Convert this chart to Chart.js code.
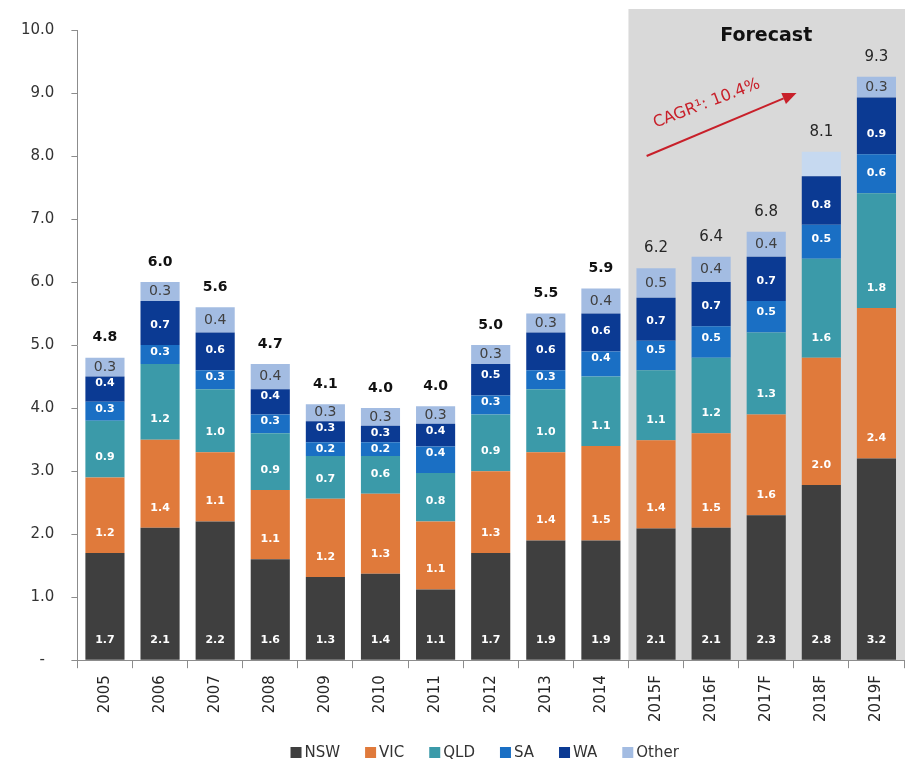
<!DOCTYPE html>
<html>
<head>
<meta charset="utf-8">
<script src="https://cdn.jsdelivr.net/npm/chart.js@4.4.1/dist/chart.umd.min.js"></script>
<style>
  html, body { margin: 0; padding: 0; background: #ffffff; }
  #wrap { width: 909px; height: 764px; }
</style>
</head>
<body>
<div id="wrap"><canvas id="c" width="909" height="764"></canvas></div>
<script>
// ---- data ----
const categories = ['2005','2006','2007','2008','2009','2010','2011','2012','2013','2014','2015F','2016F','2017F','2018F','2019F'];
const seriesNames = ['NSW','VIC','QLD','SA','WA','Other'];
const nsw   = [1.7, 2.1, 2.2, 1.6, 1.32, 1.37, 1.12, 1.7, 1.9, 1.9, 2.09, 2.1, 2.3, 2.78, 3.2];
const vic   = [1.2, 1.4, 1.1, 1.1, 1.24, 1.27, 1.08, 1.3, 1.4, 1.5, 1.4, 1.5, 1.6, 2.02, 2.39];
const qld   = [0.9, 1.2, 1.0, 0.9, 0.68, 0.6, 0.77, 0.9, 1.0, 1.1, 1.11, 1.2, 1.3, 1.57, 1.82];
const sa    = [0.3, 0.3, 0.3, 0.3, 0.22, 0.22, 0.42, 0.3, 0.3, 0.4, 0.47, 0.5, 0.5, 0.54, 0.62];
const wa    = [0.4, 0.7, 0.6, 0.4, 0.33, 0.26, 0.36, 0.5, 0.6, 0.6, 0.68, 0.7, 0.7, 0.77, 0.9];
const other = [0.3, 0.3, 0.4, 0.4, 0.27, 0.28, 0.28, 0.3, 0.3, 0.4, 0.47, 0.4, 0.4, 0.39, 0.33];
const yTicks = [0,1,2,3,4,5,6,7,8,9,10];
const forecastStart = 10;          // index of first forecast category
const forecastTitle = 'Forecast';
const cagrText = 'CAGR\u00B9: 10.4%';
const unlabeledOther = [13];        // 2018F "Other" segment carries no label

// ---- styles ----
const FONT = '"DejaVu Sans", Verdana, sans-serif';
const seriesColors = ['#3f3f3f', '#e07a3b', '#3b9aa9', '#1a6fc4', '#0b3a93', '#a3bce2'];
const otherColors = other.map((v, i) => unlabeledOther.includes(i) ? '#c6d9f0' : seriesColors[5]);
const seriesValues = [nsw, vic, qld, sa, wa, other];

const datasets = seriesNames.map((name, k) => ({
  label: name,
  data: seriesValues[k],
  backgroundColor: k === 5 ? otherColors : seriesColors[k],
  borderWidth: 0,
  barPercentage: 0.71,
  categoryPercentage: 1.0
}));

const totals = categories.map((c, i) => seriesValues.reduce((s, arr) => s + arr[i], 0));

const forecastBox = {
  id: 'forecastBox',
  beforeDraw(chart) {
    const { ctx, chartArea, scales } = chart;
    const x = scales.x;
    const half = (x.getPixelForValue(1) - x.getPixelForValue(0)) / 2;
    const left = x.getPixelForValue(forecastStart) - half;
    const right = chartArea.right + 1;
    const top = chartArea.top - 21;
    ctx.save();
    ctx.fillStyle = '#d9d9d9';
    ctx.fillRect(left, top, right - left, chartArea.bottom - top);
    ctx.restore();
  }
};

const labelsPlugin = {
  id: 'segLabels',
  afterDatasetsDraw(chart) {
    const { ctx, scales } = chart;
    ctx.save();
    ctx.textAlign = 'center';
    ctx.textBaseline = 'middle';
    chart.data.datasets.forEach((ds, k) => {
      const meta = chart.getDatasetMeta(k);
      meta.data.forEach((el, i) => {
        if (k === 5 && unlabeledOther.includes(i)) return;
        const top = Math.min(el.y, el.base), base = Math.max(el.y, el.base);
        const txt = ds.data[i].toFixed(1);
        let y;
        if (k === 5) {
          y = (top + base) / 2;
          ctx.fillStyle = '#404040';
          ctx.font = '14px ' + FONT;
        } else {
          y = Math.max(base - 20, top + 7);
          ctx.fillStyle = '#ffffff';
          ctx.font = 'bold 11px ' + FONT;
        }
        ctx.fillText(txt, el.x, y);
      });
    });
    // totals
    totals.forEach((t, i) => {
      const x = scales.x.getPixelForValue(i);
      const y = scales.y.getPixelForValue(t) - 20;
      if (i >= forecastStart) {
        ctx.font = '15px ' + FONT;
        ctx.fillStyle = '#262626';
      } else {
        ctx.font = 'bold 14px ' + FONT;
        ctx.fillStyle = '#111111';
      }
      ctx.fillText(t.toFixed(1), x, y);
    });
    ctx.restore();
  },
  afterDraw(chart) {
    const { ctx, scales, chartArea } = chart;
    const xs = scales.x, ys = scales.y;
    ctx.save();
    // Forecast title
    ctx.textAlign = 'center';
    ctx.textBaseline = 'middle';
    ctx.fillStyle = '#111111';
    ctx.font = 'bold 19px ' + FONT;
    ctx.fillText(forecastTitle, xs.getPixelForValue(12), ys.getPixelForValue(9.9));
    // CAGR arrow
    const x1 = xs.getPixelForValue(9.83), y1 = ys.getPixelForValue(8.0);
    const x2 = xs.getPixelForValue(12.55), y2 = ys.getPixelForValue(9.0);
    const ang = Math.atan2(y2 - y1, x2 - x1);
    const red = '#c8202a';
    ctx.strokeStyle = red;
    ctx.fillStyle = red;
    ctx.lineWidth = 2;
    const hl = 14, hw = 6;
    const bx = x2 - hl * Math.cos(ang), by = y2 - hl * Math.sin(ang);
    ctx.beginPath();
    ctx.moveTo(x1, y1);
    ctx.lineTo(bx, by);
    ctx.stroke();
    ctx.beginPath();
    ctx.moveTo(x2, y2);
    ctx.lineTo(bx + hw * Math.sin(ang), by - hw * Math.cos(ang));
    ctx.lineTo(bx - hw * Math.sin(ang), by + hw * Math.cos(ang));
    ctx.closePath();
    ctx.fill();
    // CAGR text
    ctx.save();
    ctx.translate(xs.getPixelForValue(10.92), ys.getPixelForValue(8.83));
    ctx.rotate(-21 * Math.PI / 180);
    ctx.font = '16px ' + FONT;
    ctx.fillText(cagrText, 0, 0);
    ctx.restore();

    // Legend
    ctx.font = '15px ' + FONT;
    ctx.textAlign = 'left';
    const box = 11, gap = 3, spacing = 25;
    const widths = seriesNames.map(n => box + gap + ctx.measureText(n).width);
    const total = widths.reduce((a, b) => a + b, 0) + spacing * (seriesNames.length - 1);
    let x = (chartArea.left + chartArea.right) / 2 - 6 - total / 2;
    const cy = 752.5;
    seriesNames.forEach((n, k) => {
      ctx.fillStyle = seriesColors[k];
      ctx.fillRect(x, cy - box / 2, box, box);
      ctx.fillStyle = '#333333';
      ctx.fillText(n, x + box + gap, cy + 1);
      x += widths[k] + spacing;
    });
    ctx.restore();
  }
};

new Chart(document.getElementById('c'), {
  type: 'bar',
  data: { labels: categories, datasets },
  options: {
    responsive: false,
    devicePixelRatio: 1,
    animation: false,
    layout: { padding: { left: 4, right: 5, top: 30, bottom: 35 } },
    plugins: { legend: { display: false }, tooltip: { enabled: false } },
    scales: {
      x: {
        stacked: true,
        grid: { display: true, drawOnChartArea: false, tickLength: 8, color: '#8c8c8c', offset: true },
        border: { color: '#8c8c8c' },
        ticks: { maxRotation: 90, minRotation: 90, padding: 7, color: '#262626', font: { family: FONT, size: 15 } }
      },
      y: {
        stacked: true,
        min: 0, max: 10,
        afterBuildTicks(scale) { scale.ticks = yTicks.map(v => ({ value: v })); },
        grid: { display: true, drawOnChartArea: false, tickLength: 6, color: '#8c8c8c' },
        border: { color: '#8c8c8c' },
        ticks: {
          padding: 17, color: '#333333', font: { family: FONT, size: 15 },
          callback: v => v === 0 ? '-  ' : Number(v).toFixed(1)
        }
      }
    }
  },
  plugins: [forecastBox, labelsPlugin]
});
</script>
</body>
</html>
